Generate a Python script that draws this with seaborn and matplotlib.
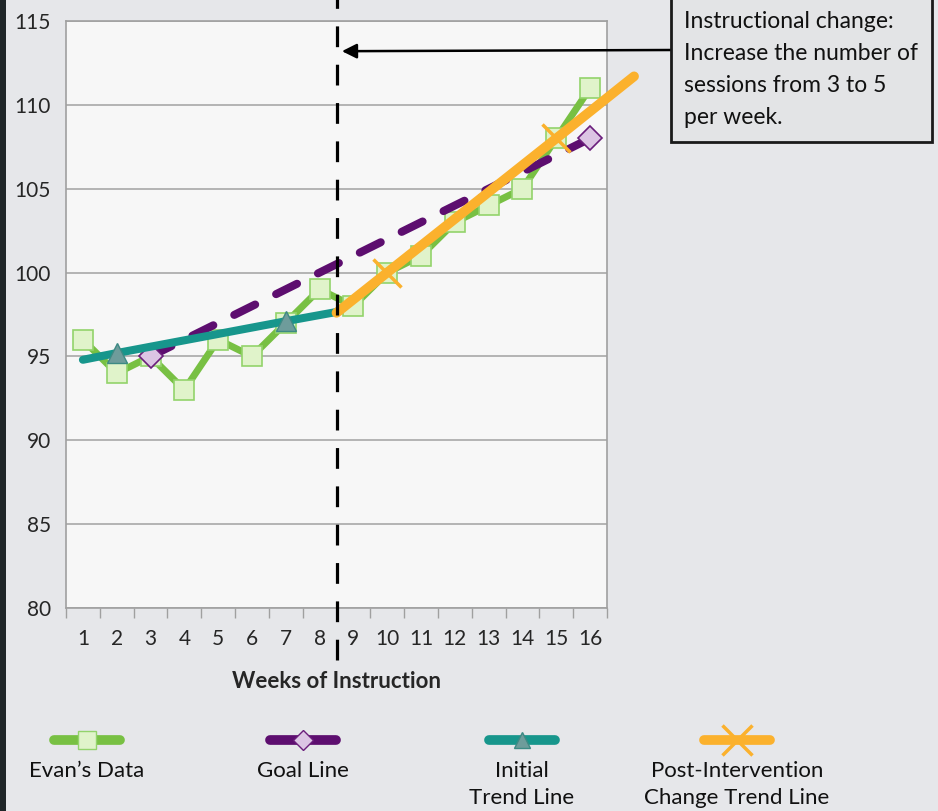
import matplotlib
matplotlib.use("Agg")
import matplotlib.pyplot as plt
from matplotlib.patches import Rectangle
import pandas as pd
import seaborn as sns

weeks = list(range(1, 17))
evan_scores = [96, 94, 95, 93, 96, 95, 97, 99, 98, 100, 101, 103, 104, 105, 108, 111]

goal_weeks = [3, 16]
goal_scores = [95, 108]

initial_weeks = [1, 2, 7, 8.5]
initial_scores = [94.8, 95.2, 97.1, 97.65]

post_weeks = [8.5, 10, 15, 17.3]
post_scores = [97.6, 100, 108, 111.7]

change_week = 8.5
y_ticks = [80, 85, 90, 95, 100, 105, 110, 115]

note_lines = ["Instructional change:", "Increase the number of",
              "sessions from 3 to 5", "per week."]
legend_labels = ["Evan\u2019s Data", "Goal Line", "Initial\nTrend Line",
                 "Post-Intervention\nChange Trend Line"]

GREEN = "#78c043"
PURPLE = "#5d0e6f"
TEAL = "#17968c"
ORANGE = "#fbb12d"
BG = "#e6e7ea"

sns.set_theme(style="white")
plt.rcParams["font.family"] = ["Lato", "DejaVu Sans"]

fig = plt.figure(figsize=(9.38, 8.11), dpi=100, facecolor=BG)
ax = fig.add_axes([66 / 938, 1 - 608 / 811, 541 / 938, 587 / 811])
ax.set_facecolor("#f7f7f7")

evan = pd.DataFrame({"week": weeks, "score": evan_scores})
goal = pd.DataFrame({"week": goal_weeks, "score": goal_scores})
initial = pd.DataFrame({"week": initial_weeks, "score": initial_scores})
post = pd.DataFrame({"week": post_weeks, "score": post_scores})

sns.lineplot(data=evan, x="week", y="score", ax=ax, color=GREEN, lw=5,
             marker="s", ms=15, mfc="#e0f3ca", mec="#93d36b", mew=1.2,
             zorder=3)
sns.lineplot(data=goal, x="week", y="score", ax=ax, color=PURPLE, lw=5.8,
             linestyle=(0, (2.9, 2.9)), dash_capstyle="round",
             marker="D", ms=12, mfc="#dcc5e4", mec="#6b1e7c", mew=1.2,
             zorder=4)
sns.lineplot(data=initial, x="week", y="score", ax=ax, color=TEAL, lw=5.8,
             solid_capstyle="round", marker="^", ms=15, mfc="#6e9c9b",
             mec="#3d8a84", mew=1.0, markevery=[1, 2], zorder=5)
sns.lineplot(data=post, x="week", y="score", ax=ax, color=ORANGE, lw=7,
             solid_capstyle="round", marker="x", ms=20, mec=ORANGE, mew=2.5,
             markevery=[1, 2], clip_on=False, zorder=6)

# phase change line, runs past the plot area
ax.plot([change_week, change_week], [76.9, 116.4], color="black", lw=2.3,
        linestyle=(0, (6.5, 5.5)), clip_on=False, zorder=7)

ax.set_xlim(0.5, 16.5)
ax.set_ylim(80, 115)
ax.set_xticks(weeks)
ax.set_xticks([w + 0.5 for w in range(0, 17)], minor=True)
ax.set_yticks(y_ticks)
ax.tick_params(axis="x", which="major", length=0, pad=15, labelsize=15)
ax.tick_params(axis="x", which="minor", length=7, width=1, color="#a0a0a0",
               bottom=True, direction="out")
ax.tick_params(axis="y", length=0, pad=11, labelsize=15)
ax.yaxis.grid(True, color="#a8a8a8", lw=1.2)
ax.set_axisbelow(True)
for s in ax.spines.values():
    s.set_color("#a0a0a0")
    s.set_linewidth(1.2)
ax.set_xlabel("Weeks of Instruction", fontsize=16, fontweight="bold",
              labelpad=16)
ax.set_ylabel("")

# overlay in pixel units for the note box and the legend
lax = fig.add_axes([0, 0, 1, 1], facecolor="none")
lax.set_xlim(0, 938)
lax.set_ylim(811, 0)
lax.axis("off")
lax.add_patch(Rectangle((0, 0), 6, 811, color="#1f2628", lw=0))
lax.add_patch(Rectangle((671, -5), 261, 147, facecolor="#e3e4e6",
                        edgecolor="#1a1a1a", lw=2))
for i, line in enumerate(note_lines):
    lax.text(684, 21 + i * 32, line, fontsize=16.5, va="center", ha="left",
             color="#111111")

ax.annotate("", xy=(8.66, 113.2), xycoords="data",
            xytext=(671, 50), textcoords=lax.transData,
            arrowprops=dict(arrowstyle="-|>", color="black", lw=1.8,
                            mutation_scale=22, shrinkA=0, shrinkB=0),
            annotation_clip=False)

# legend drawn by hand
legend_x = [87, 303, 522, 737]
styles = [
    dict(color=GREEN, marker="s", ms=13, mfc="#e0f3ca", mec="#93d36b"),
    dict(color=PURPLE, marker="D", ms=10, mfc="#dcc5e4", mec="#6b1e7c"),
    dict(color=TEAL, marker="^", ms=12, mfc="#6e9c9b", mec="#3d8a84"),
    dict(color=ORANGE, marker="x", ms=22, mec=ORANGE, mew=2.5),
]
for cx, lab, st in zip(legend_x, legend_labels, styles):
    lax.plot([cx - 33, cx, cx + 33], [740, 740, 740], lw=7,
             solid_capstyle="round", markevery=[1], **st)
    lax.text(cx, 761, lab, fontsize=16, ha="center", va="top",
             linespacing=1.45, color="#111111")

fig.savefig("out.png", dpi=100, facecolor=BG)
